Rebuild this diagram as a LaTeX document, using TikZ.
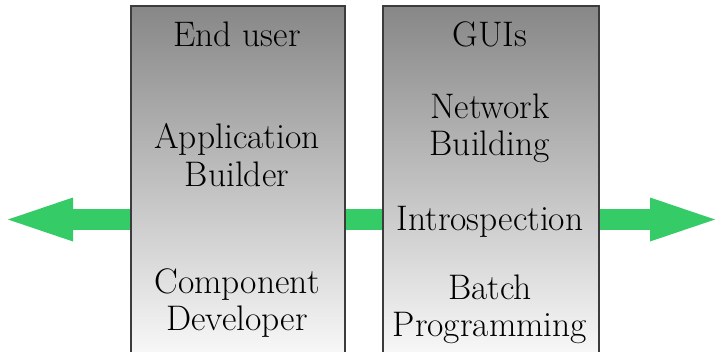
\documentclass[tikz,border=0pt]{standalone}
\usepackage{fontspec}
\usetikzlibrary{arrows.meta}
\definecolor{arrowgreen}{RGB}{53,204,104}
\definecolor{boxtop}{RGB}{135,135,135}
\definecolor{boxbottom}{RGB}{250,250,250}
\definecolor{boxedge}{RGB}{60,60,60}
\tikzset{
  panel/.style={draw=boxedge, line width=1.5pt, top color=boxtop, bottom color=boxbottom,
    minimum height=355pt, inner sep=0pt, anchor=north west},
  label/.style={font=\fontsize{35.5}{37.5}\selectfont, align=center, anchor=base, inner sep=0pt},
  bigarrow/.style={draw=arrowgreen, line width=21pt,
    -{Triangle[length=65pt,width=44pt,line width=0pt]}, fill=arrowgreen},
  shaft/.style={draw=arrowgreen, line width=21pt}
}
\begin{document}
\begin{tikzpicture}[x=1pt,y=-1pt]
\useasboundingbox (0,0) rectangle (715,351);
\node[panel, minimum width=214pt] (L) at (130,5) {};
\node[panel, minimum width=216pt] (R) at (382,5) {};
\coordinate (tipL) at (8,219.5);
\coordinate (tipR) at (715,219.5);
\coordinate (Lw) at (L.west |- tipL);
\coordinate (Le) at (L.east |- tipL);
\coordinate (Rw) at (R.west |- tipL);
\coordinate (Re) at (R.east |- tipL);
\draw[bigarrow] (Lw) -- (tipL);
\draw[shaft] (Le) -- (Rw);
\draw[bigarrow] (Re) -- (tipR);
\node[label] (eu) at (237,46.7) {End user};
\node[label] (ab) at (237,186) {Application\\Builder};
\node[label] (cd) at (237,330.7) {Component\\Developer};
\node[label] (gu) at (490,46.7) {GUIs};
\node[label] (nb) at (490,155.7) {Network\\Building};
\node[label] (in) at (490,230) {Introspection};
\node[label] (bp) at (490,336.7) {Batch\\Programming};
\end{tikzpicture}
\end{document}
